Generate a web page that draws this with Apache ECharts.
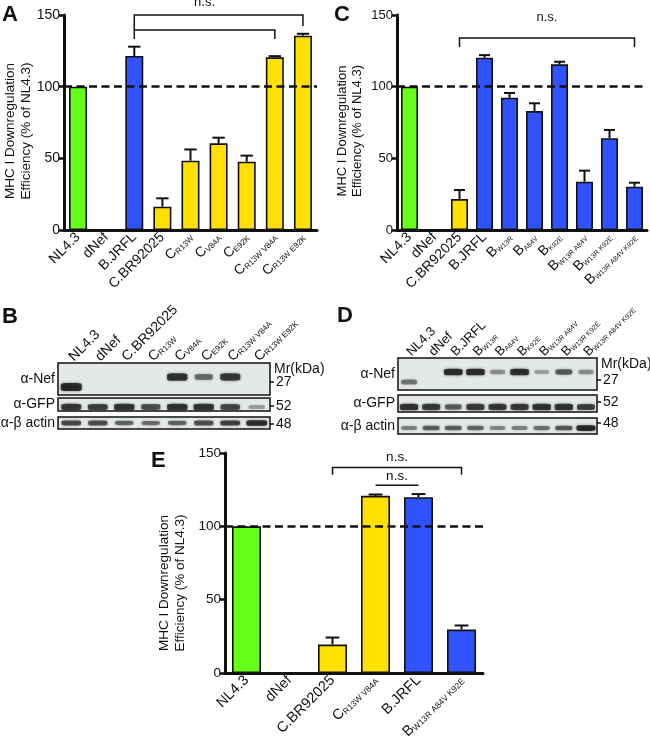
<!DOCTYPE html>
<html><head><meta charset="utf-8">
<script src="https://cdn.jsdelivr.net/npm/echarts@6/dist/echarts.min.js"></script>
<style>html,body{margin:0;padding:0;background:#fff}#c{width:650px;height:741px}</style>
</head><body><div id="c"></div>
<script>
// ---------- data ----------
const catsA = ['NL4.3','dNef','B.JRFL','C.BR92025','C_R13W','C_V84A','C_E92K','C_R13W V84A','C_R13W E92K'];
const groupA = ['NL','dNef','B','C','C','C','C','C','C'];
const meanA = [100, 0, 121.4, 16.3, 48.4, 60.5, 47.7, 120.5, 135.6];
const semA  = [0, 0, 6.5, 5.8, 7.8, 3.9, 4.2, 0.8, 1.3];
const bracketsA = [[2, 8, 150, 139.6, 142.4], [2, 7, 139.6, 133.3, 133.3]];
const nsA = [[2, 7, 159]];

const catsC = ['NL4.3','dNef','C.BR92025','B.JRFL','B_W13R','B_A84V','B_K92E','B_W13R A84V','B_W13R K92E','B_W13R A84V K92E'];
const groupC = ['NL','dNef','C','B','B','B','B','B','B','B'];
const meanC = [100, 0, 21.6, 120.2, 92.3, 83.0, 115.6, 33.7, 64.0, 30.2];
const semC  = [0, 0, 6.3, 1.8, 3.3, 5.4, 1.8, 7.7, 5.8, 2.8];
const bracketsC = [[2, 9, 134, 127.7, 127.7]];
const nsC = [[2, 9, 148.6]];

const catsE = ['NL4.3','dNef','C.BR92025','C_R13W V84A','B.JRFL','B_W13R A84V K92E'];
const groupE = ['NL','dNef','C','C','B','B'];
const meanE = [100, 0, 19.4, 120.8, 119.9, 29.6];
const semE  = [0, 0, 4.8, 0.9, 2.1, 2.8];
const bracketsE = [[2, 5, 140.1, 135.2, 135.2], [3, 4, 128, 128, 128]];
const nsE = [[2, 5, 147.2], [3, 4, 134]];

// western blots: lane names, band intensities (0-1), apparent size (kDa)
const lanesB = ['NL4.3','dNef','C.BR92025','C_R13W','C_V84A','C_E92K','C_R13W V84A','C_R13W E92K'];
const nefB   = [1.0, 0, 0, 0, 0.9, 0.5, 0.85, 0];
const nefKdaB = [24.5, 0, 0, 0, 29.5, 29.5, 29.5, 0];
const gfpB   = [0.85, 0.8, 0.9, 0.7, 0.9, 0.9, 0.75, 0.2];
const actB   = [0.75, 0.7, 0.55, 0.5, 0.55, 0.7, 0.8, 0.95];

const lanesD = ['NL4.3','dNef','B.JRFL','B_W13R','B_A84V','B_K92E','B_W13R A84V','B_W13R K92E','B_W13R A84V K92E'];
const nefD   = [0.45, 0, 0.95, 0.95, 0.3, 0.95, 0.2, 0.6, 0.3];
const nefKdaD = [26, 0, 31, 31, 31, 31, 31, 31, 31];
const gfpD   = [0.9, 0.85, 0.6, 0.85, 0.85, 0.85, 0.9, 0.9, 0.8];
const actD   = [0.4, 0.6, 0.6, 0.55, 0.35, 0.4, 0.5, 0.65, 1.0];

const rowNames = ['α-Nef', 'α-GFP', 'α-β actin'];
const markerKda = [27, 52, 48];
const yTitle = 'MHC I Downregulation\nEfficiency (% of NL4.3)';

// ---------- styling ----------
const FONT = "'Liberation Sans', Arial, Helvetica, sans-serif";
const INK = '#111';
const COLORS = { NL: '#66FF1A', B: '#3152FF', C: '#FFE000', dNef: '#ffffff' };

function fmtCat(v) {
  const i = v.indexOf('_');
  if (i < 0) return '{m|' + v + '}';
  return '{m|' + v.slice(0, i) + '}{s|' + v.slice(i + 1) + '}';
}
function rich(fs, ss) {
  return {
    m: { fontSize: fs, fontFamily: FONT, color: INK },
    s: { fontSize: ss, fontFamily: FONT, color: INK, verticalAlign: 'bottom' }
  };
}

const grids = [], xAxes = [], yAxes = [], series = [];

function barPanel(cats, groups, means, sems, brackets, ns, o) {
  const gi = grids.length;
  grids.push({ left: o.left, top: o.top, width: o.width, height: o.height, show: false, outerBoundsMode: 'none' });
  const xi = xAxes.length, yi = yAxes.length;
  xAxes.push({
    gridIndex: gi, type: 'category', data: cats,
    axisLine: { lineStyle: { color: INK, width: 3 } },
    axisTick: { alignWithLabel: true, length: 6, lineStyle: { color: INK, width: 2.5 } },
    axisLabel: { rotate: 45, interval: 0, margin: 5, formatter: fmtCat, rich: rich(o.lfs, o.sfs) }
  });
  yAxes.push({
    gridIndex: gi, type: 'value', min: 0, max: 150, interval: 50,
    splitLine: { show: false },
    axisLine: { show: true, lineStyle: { color: INK, width: 3 } },
    axisTick: { show: true, length: 5, lineStyle: { color: INK, width: 2.5 } },
    axisLabel: { fontSize: o.tfs, fontFamily: FONT, color: INK, margin: 4 }
  });
  const ax = { xAxisIndex: xi, yAxisIndex: yi };
  series.push(Object.assign({
    type: 'line', data: [], z: 1, silent: true,
    markLine: {
      silent: true, symbol: 'none', label: { show: false }, animation: false,
      lineStyle: { type: [8, 4.5], width: 2.5, color: INK },
      data: [{ yAxis: 100 }]
    }
  }, ax));
  series.push(Object.assign({
    type: 'bar', z: 2, barWidth: o.barWidth,
    data: means.map((v, i) => ({
      value: v,
      itemStyle: { color: COLORS[groups[i]], borderColor: INK, borderWidth: v > 0 ? 1.6 : 0 }
    }))
  }, ax));
  const capFrac = o.cap;
  series.push(Object.assign({
    type: 'custom', z: 4, clip: false,
    data: means.map((v, i) => [i, v, sems[i]]).filter(d => d[2] > 0),
    encode: { x: 0, y: 1 },
    renderItem(p, api) {
      const x = api.value(0), m = api.value(1), e = api.value(2);
      const a = api.coord([x, m]), b = api.coord([x, m + e]);
      const c = api.size([1, 0])[0] * capFrac;
      const st = { stroke: INK, lineWidth: 2 };
      return { type: 'group', children: [
        { type: 'line', shape: { x1: a[0], y1: a[1], x2: b[0], y2: b[1] }, style: st },
        { type: 'line', shape: { x1: b[0] - c, y1: b[1], x2: b[0] + c, y2: b[1] }, style: st }
      ] };
    }
  }, ax));
  series.push(Object.assign({
    type: 'custom', z: 4, clip: false, data: brackets,
    encode: { x: [0, 1], y: [2, 3, 4] },
    renderItem(p, api) {
      const x1 = api.value(0), x2 = api.value(1), yt = api.value(2), yl = api.value(3), yr = api.value(4);
      const a = api.coord([x1, yt]), b = api.coord([x2, yt]);
      const pts = (yl === yt && yr === yt) ? [a, b] : [api.coord([x1, yl]), a, b, api.coord([x2, yr])];
      return { type: 'polyline', shape: { points: pts }, style: { stroke: INK, lineWidth: 1.5, fill: null } };
    }
  }, ax));
  series.push(Object.assign({
    type: 'custom', z: 4, clip: false, data: ns,
    encode: { x: [0, 1], y: 2 },
    renderItem(p, api) {
      const a = api.coord([api.value(0), api.value(2)]), b = api.coord([api.value(1), api.value(2)]);
      return { type: 'text', style: { text: 'n.s.', x: (a[0] + b[0]) / 2, y: a[1], align: 'center', verticalAlign: 'middle',
        fontSize: o.nsfs, fontFamily: FONT, fill: INK } };
    }
  }, ax));
}

function blotPanel(lanes, rows, o) {
  rows.forEach((r, ri) => {
    const gi = grids.length;
    grids.push({ left: o.left, top: r.top, width: o.width, height: r.height, show: true, outerBoundsMode: 'none',
      backgroundColor: '#e5e8e8', borderColor: INK, borderWidth: 1.5 });
    const xi = xAxes.length;
    xAxes.push({
      gridIndex: gi, type: 'category', data: lanes, position: 'top',
      axisLine: { show: false }, axisTick: { show: false },
      axisLabel: ri === 0 ? { show: true, rotate: -45, align: 'left', verticalAlign: 'middle', interval: 0, margin: 4,
        formatter: fmtCat, rich: rich(o.lfs, o.sfs) } : { show: false }
    });
    const yi = yAxes.length;
    yAxes.push({
      gridIndex: gi, type: 'value', min: r.min, max: r.max,
      axisLine: { show: false }, axisTick: { show: false }, axisLabel: { show: false }, splitLine: { show: false },
      name: rowNames[ri], nameLocation: 'middle', nameRotate: 0, nameGap: 3,
      nameTextStyle: { fontSize: 14, fontFamily: FONT, color: INK, align: 'right', verticalAlign: 'middle' }
    });
    yAxes.push({
      gridIndex: gi, type: 'value', min: r.min, max: r.max, position: 'right',
      axisLine: { show: false }, splitLine: { show: false },
      axisTick: { show: true, customValues: [markerKda[ri]], length: 4, lineStyle: { color: INK, width: 1.5 } },
      axisLabel: { show: true, customValues: [markerKda[ri]], margin: 6, fontSize: 14, fontFamily: FONT, color: INK }
    });
    const data = r.vals.map((v, i) => [i, r.kda[i], v]).filter(d => d[2] > 0);
    series.push({
      type: 'scatter', xAxisIndex: xi, yAxisIndex: yi, z: 3, silent: true,
      symbol: 'roundRect',
      symbolSize: d => [o.bw * (0.75 + 0.3 * d[2]), r.bh * (0.55 + 0.6 * d[2])],
      itemStyle: {
        color: p => 'rgba(12,12,12,' + (0.15 + 0.85 * p.data[2]).toFixed(2) + ')',
        shadowBlur: 3, shadowColor: 'rgba(20,20,20,0.6)'
      },
      data
    });
  });
}

barPanel(catsA, groupA, meanA, semA, bracketsA, nsA,
  { left: 64, top: 15, width: 253, height: 215, barWidth: 18, lfs: 14, sfs: 8, tfs: 14, cap: 0.22, nsfs: 13 });
barPanel(catsC, groupC, meanC, semC, bracketsC, nsC,
  { left: 397, top: 15, width: 250, height: 215, barWidth: 17, lfs: 14, sfs: 7, tfs: 13, cap: 0.22, nsfs: 13 });
barPanel(catsE, groupE, meanE, semE, bracketsE, nsE,
  { left: 225, top: 453, width: 258, height: 220, barWidth: 29, lfs: 14.5, sfs: 8.5, tfs: 13.5, cap: 0.16, nsfs: 13.5 });

blotPanel(lanesB, [
  { top: 363, height: 32, min: 20.5, max: 36.5, vals: nefB, kda: nefKdaB, bh: 7 },
  { top: 398, height: 13, min: 49.5, max: 56, vals: gfpB, kda: gfpB.map(() => 51.5), bh: 6 },
  { top: 417, height: 12, min: 45.5, max: 51.5, vals: actB, kda: actB.map(() => 48.5), bh: 5 }
], { left: 58, width: 212, bw: 20, lfs: 14, sfs: 8 });

blotPanel(lanesD, [
  { top: 358, height: 32, min: 22, max: 38, vals: nefD, kda: nefKdaD, bh: 6 },
  { top: 395, height: 17, min: 47, max: 55.5, vals: gfpD, kda: gfpD.map(() => 49.5), bh: 6 },
  { top: 418, height: 16, min: 42.5, max: 50.5, vals: actD, kda: actD.map(() => 45.5), bh: 5 }
], { left: 398, width: 199, bw: 18, lfs: 13, sfs: 7 });

const letter = (t, x, y) => ({ type: 'text', left: x, top: y, style: { text: t, fontSize: 22, fontWeight: 'bold', fontFamily: FONT, fill: INK } });
const vtitle = (x, y, fs, lh) => ({ type: 'text', x, y, rotation: Math.PI / 2,
  style: { text: yTitle, fontSize: fs, lineHeight: lh, fontFamily: FONT, fill: INK, align: 'center', verticalAlign: 'middle' } });
const option = {
  animation: false,
  grid: grids, xAxis: xAxes, yAxis: yAxes, series,
  graphic: [
    letter('A', 2, 4), letter('B', 2, 306), letter('C', 334, 4), letter('D', 337, 305), letter('E', 151, 450),
    vtitle(18, 131, 13.5, 16), vtitle(350, 131, 13, 14.5), vtitle(172.5, 583, 13.5, 15.5),
    { type: 'text', left: 274, top: 362, style: { text: 'Mr(kDa)', fontSize: 14, fontFamily: FONT, fill: INK } },
    { type: 'text', left: 601, top: 357, style: { text: 'Mr(kDa)', fontSize: 14, fontFamily: FONT, fill: INK } }
  ]
};
const chart = echarts.init(document.getElementById('c'), null, { renderer: 'canvas' });
chart.setOption(option);
</script></body></html>
